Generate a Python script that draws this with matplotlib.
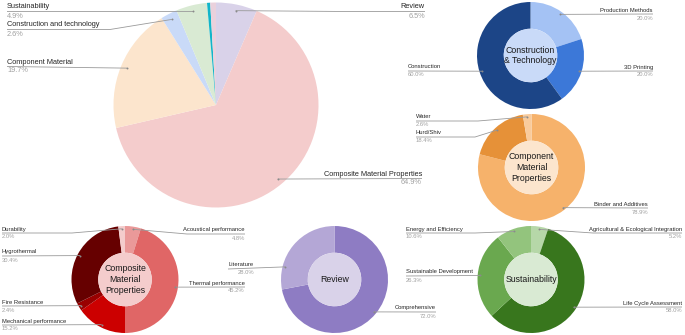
import matplotlib
matplotlib.use("Agg")
import matplotlib.pyplot as plt
from matplotlib.patches import Circle
import numpy as np

plt.rcParams['font.family'] = ['Liberation Sans', 'DejaVu Sans']

# ---------------- data ----------------
main_names = ["Review", "Composite Material Properties", "Component Material",
              "Construction and technology", "Sustainability", "Other 1", "Other 2"]
main_values = [6.5, 64.9, 19.7, 2.6, 4.9, 0.5, 0.9]
main_colors = ["#D9D2E9", "#F4CCCC", "#FCE5CD", "#C9DAF8", "#D9EAD3", "#12B5C9", "#EAD1DC"]

ct_names = ["Production Methods", "3D Printing", "Construction"]
ct_values = [20.0, 20.0, 60.0]
ct_colors = ["#A4C2F4", "#3C78D8", "#1C4587"]

cm_names = ["Binder and Additives", "Hurd/Shiv", "Water"]
cm_values = [78.9, 18.4, 2.6]
cm_colors = ["#F6B26B", "#E69138", "#F9CB9C"]

cp_names = ["Acoustical performance", "Thermal performance", "Mechanical performance",
            "Fire Resistance", "Hygrothermal", "Durability"]
cp_values = [4.8, 45.2, 15.2, 2.4, 30.4, 2.0]
cp_colors = ["#EA9999", "#E06666", "#CC0000", "#990000", "#660000", "#F4CCCC"]

rv_names = ["Comprehensive", "Literature"]
rv_values = [72.0, 28.0]
rv_colors = ["#8E7CC3", "#B4A7D6"]

su_names = ["Agricultural & Ecological Integration", "Life Cycle Assessment",
            "Sustainable Development", "Energy and Efficiency"]
su_values = [5.2, 58.0, 26.3, 10.6]
su_colors = ["#B6D7A8", "#38761D", "#6AA84F", "#93C47D"]

# ---------------- layout ----------------
W, H = 685, 335
fig = plt.figure(figsize=(W / 100, H / 100), dpi=100)
ax = fig.add_axes([0, 0, 1, 1])


def Y(p):
    return H - p


NAME_C = "#262626"
PCT_C = "#A0A0A0"
LINE_C = "#9A9A9A"

# label spec: slice index -> (text_x, text_y, ha, line_end_x, knee_x, frac)
pies = [
    dict(values=main_values, colors=main_colors, names=main_names, c=(216, 105), r=102.5,
         hole=None, title=None, fs=5.35, dp=9, dl=4.5, dist=0.94,
         labels={0: (425, 7, "right", 425, 345, 0.5),
                 1: (422, 174, "right", 422, None, 0.5),
                 2: (7, 62, "left", 7, None, 0.5),
                 3: (7, 25, "left", 7, 110, 0.5),
                 4: (7, 7, "left", 7, None, 0.5)}),
    dict(values=ct_values, colors=ct_colors, names=ct_names, c=(530.5, 55.5), r=53.5,
         hole="#C9DAF8", title="Construction\n& Technology", fs=4.2, dp=8, dl=4, dist=0.95,
         labels={0: (653, 10, "right", 653, None, 0.5),
                 1: (653, 67, "right", 653, None, 0.5),
                 2: (408, 67, "left", 408, None, 0.5)}),
    dict(values=cm_values, colors=cm_colors, names=cm_names, c=(531.5, 167.5), r=53.5,
         hole="#FCE5CD", title="Component\nMaterial\nProperties", fs=4.2, dp=8, dl=4, dist=0.95,
         labels={0: (648, 204, "right", 648, None, 0.5),
                 1: (416, 133, "left", 416, 475, 0.5),
                 2: (416, 117, "left", 416, 478, 0.5)}),
    dict(values=cp_values, colors=cp_colors, names=cp_names, c=(125, 279.5), r=53.5,
         hole="#F4CCCC", title="Composite\nMaterial\nProperties", fs=4.2, dp=8, dl=4, dist=0.95,
         labels={0: (245, 230, "right", 245, 187, 0.5),
                 1: (245, 283, "right", 245, None, 0.5),
                 2: (2, 321, "left", 2, None, 0.5),
                 3: (2, 302, "left", 2, None, 0.5),
                 4: (2, 252, "left", 2, None, 0.5),
                 5: (2, 229, "left", 2, 72, 0.5)}),
    dict(values=rv_values, colors=rv_colors, names=rv_names, c=(334.5, 279.5), r=53.5,
         hole="#D9D2E9", title="Review", fs=4.2, dp=8, dl=4, dist=0.95,
         labels={0: (436, 308, "right", 436, None, 0.5),
                 1: (254, 265, "right", 228, None, 0.25)}),
    dict(values=su_values, colors=su_colors, names=su_names, c=(531, 279.5), r=53.5,
         hole="#D9EAD3", title="Sustainability", fs=4.2, dp=8, dl=4, dist=0.95,
         labels={0: (682, 229, "right", 682, 593, 0.5),
                 1: (682, 303, "right", 682, None, 0.5),
                 2: (406, 272, "left", 406, None, 0.5),
                 3: (406, 229, "left", 406, 475, 0.5)}),
]

for p in pies:
    cx, cy = p["c"]
    r = p["r"]
    wp = dict(linewidth=0)
    if p["hole"] is not None:
        wp["width"] = 0.5 * r
    ax.pie(p["values"], colors=p["colors"], startangle=90, counterclock=False,
           radius=r, center=(cx, Y(cy)), wedgeprops=wp)
    if p["hole"] is not None:
        ax.add_patch(Circle((cx, Y(cy)), 0.5 * r, facecolor=p["hole"], edgecolor="none", zorder=3))
        ax.text(cx, Y(cy), p["title"], ha="center", va="center", fontsize=6.3,
                color="#1a1a1a", linespacing=1.25, zorder=4)

    vals = np.array(p["values"], dtype=float)
    total = vals.sum()
    starts = np.concatenate([[0], np.cumsum(vals)[:-1]])
    for i, (tx, ty, ha, lend, knee, frac) in p["labels"].items():
        theta = np.deg2rad(360 * (starts[i] + frac * vals[i]) / total)
        d = p["dist"] * r
        sx, sy = cx + d * np.sin(theta), cy - d * np.cos(theta)
        ly = ty + p["dl"]
        xs, ys = [sx], [sy]
        if knee is not None:
            xs.append(knee)
            ys.append(ly)
        xs.append(lend)
        ys.append(ly)
        ax.plot(xs, [Y(v) for v in ys], color=LINE_C, lw=0.6, zorder=5, solid_capstyle="butt")
        ax.plot([sx], [Y(sy)], marker="o", ms=1.4, color="#8a8a8a", mec="none", zorder=6)
        ax.text(tx, Y(ty), p["names"][i], ha=ha, va="center", fontsize=p["fs"],
                color=NAME_C, zorder=6)
        ax.text(tx, Y(ty + p["dp"]), f"{vals[i]:.1f}%", ha=ha, va="center",
                fontsize=p["fs"], color=PCT_C, zorder=6)

ax.set_xlim(0, W)
ax.set_ylim(0, H)
ax.set_aspect("auto")
ax.axis("off")
fig.savefig("out.png", dpi=100, facecolor="white")
